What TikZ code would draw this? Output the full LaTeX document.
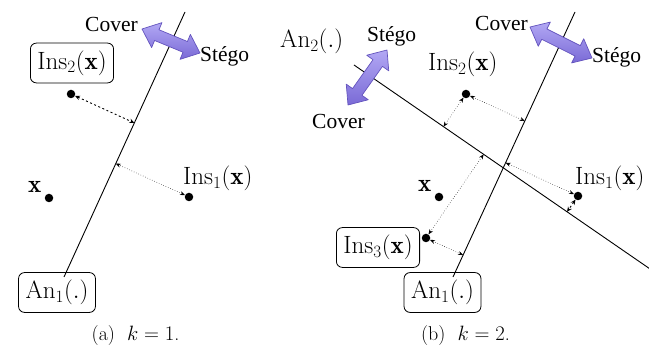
\documentclass[tikz,border=0pt]{standalone}
\usepackage{fontspec}
\newfontfamily\tmsfont{Liberation Serif}
\usetikzlibrary{calc,arrows.meta}
\definecolor{arrlight}{RGB}{178,168,244}
\definecolor{arrdark}{RGB}{122,106,214}
\definecolor{arrborder}{RGB}{100,84,190}
\newcommand{\bigtxt}{\fontsize{25}{30}\selectfont}
\newcommand{\midtxt}{\tmsfont\fontsize{21.5}{26}\selectfont}
\newcommand{\captxt}{\fontsize{20}{24}\selectfont}
\newcommand{\fatarr}[3]{%
  \begin{scope}[shift={#1},rotate=#2]
    \draw[fatstyle] (0,0) -- (16,-13.5) -- (16,-5.8) -- ({#3-16},-5.8) -- ({#3-16},-13.5)
      -- (#3,0) -- ({#3-16},13.5) -- ({#3-16},5.8) -- (16,5.8) -- (16,13.5) -- cycle;
  \end{scope}}
\tikzset{
  fatstyle/.style={draw=arrborder,line width=0.7pt,top color=arrlight,bottom color=arrdark,line join=round},
  hyper/.style={line width=0.9pt,black},
  dotpt/.style={circle,fill=black,inner sep=0pt,minimum size=8.5pt},
  rbox/.style={draw,rounded corners=6pt,line width=0.8pt,inner xsep=7pt,inner ysep=7.5pt,font=\bigtxt},
  lbl/.style={anchor=base west,inner sep=0pt,font=\bigtxt},
  word/.style={anchor=base west,inner sep=0pt,font=\midtxt},
  thin dist/.style={<->,>={Stealth[length=5pt,width=4pt]},line width=0.5pt,dotted},
  thick dist/.style={<->,>={Stealth[length=5pt,width=4.5pt]},line width=0.9pt,dash pattern=on 2pt off 2.5pt},
  captext/.style={font=\captxt,inner sep=0pt}
}
\begin{document}
\begin{tikzpicture}[x=1pt,y=-1pt]
\useasboundingbox (0,0) rectangle (649,347);

% ---------- panel (a) ----------
\coordinate (la1) at (64,277);
\coordinate (la2) at (185,12);
\node[rbox] (An1a) at (57,292.5) {$\mathrm{An}_1(.)$};
\draw[hyper] (la1) -- (la2);
\node[rbox,fill=white] (Ins2a) at (72,63) {$\mathrm{Ins}_2(\mathbf{x})$};
\node[dotpt] (p2a) at (71,94) {};
\node[dotpt] (p1a) at (189,197) {};
\node[dotpt] (pxa) at (49,198) {};
\node[lbl] (l1a) at (183,185) {$\mathrm{Ins}_1(\mathbf{x})$};
\node[lbl] (lxa) at (28,193) {$\mathbf{x}$};
\coordinate (f2a) at ($(la1)!(p2a)!(la2)$);
\coordinate (f1a) at ($(la1)!(p1a)!(la2)$);
\draw[thick dist] (p2a) -- (f2a);
\draw[thin dist] (p1a) -- (f1a);
\fatarr{(142,29)}{-22.48}{62.77}
\node[word] (cova) at (85,32) {Cover};
\node[word] (stega) at (200,62) {Stégo};
\node[captext] (capa) at (135.5,336) {(a)\ \ $k=1$.};

% ---------- panel (b) ----------
\coordinate (lb1) at (453,277);
\coordinate (lb2) at (575,12);
\coordinate (lc1) at (354,65);
\coordinate (lc2) at (653,271);
\node[rbox] (An1b) at (442.5,292.5) {$\mathrm{An}_1(.)$};
\draw[hyper] (lb1) -- (lb2);
\draw[hyper] (lc1) -- (lc2);
\node[rbox,fill=white] (Ins3b) at (378,247.5) {$\mathrm{Ins}_3(\mathbf{x})$};
\node[lbl] (lan2) at (280,48) {$\mathrm{An}_2(.)$};
\node[lbl] (l2b) at (428,71) {$\mathrm{Ins}_2(\mathbf{x})$};
\node[lbl] (l1b) at (575,185) {$\mathrm{Ins}_1(\mathbf{x})$};
\node[lbl] (lxb) at (418,192) {$\mathbf{x}$};
\node[dotpt] (p2b) at (466,94) {};
\node[dotpt] (p1b) at (578,196) {};
\node[dotpt] (pxb) at (439,197) {};
\node[dotpt] (p3b) at (426,238) {};
\coordinate (f2b1) at ($(lb1)!(p2b)!(lb2)$);
\coordinate (f2b2) at ($(lc1)!(p2b)!(lc2)$);
\coordinate (f1b1) at ($(lb1)!(p1b)!(lb2)$);
\coordinate (f1b2) at ($(lc1)!(p1b)!(lc2)$);
\coordinate (f3b1) at ($(lb1)!(p3b)!(lb2)$);
\coordinate (f3b2) at ($(lc1)!(p3b)!(lc2)$);
\draw[thin dist] (p2b) -- (f2b1);
\draw[thin dist] (p2b) -- (f2b2);
\draw[thin dist] (p1b) -- (f1b1);
\draw[thick dist] (p1b) -- (f1b2);
\draw[thin dist] (p3b) -- (f3b1);
\draw[thin dist] (p3b) -- (f3b2);
\fatarr{(530,27)}{-26.57}{69.32}
\node[word] (covb) at (475,31) {Cover};
\node[word] (stegb) at (592,63) {Stégo};
\fatarr{(387,50)}{-125.34}{67.42}
\node[word] (stegc) at (367,42) {Stégo};
\node[word] (covc) at (312,129) {Cover};
\node[captext] (capb) at (465.5,336) {(b)\ \ $k=2$.};
\end{tikzpicture}
\end{document}
